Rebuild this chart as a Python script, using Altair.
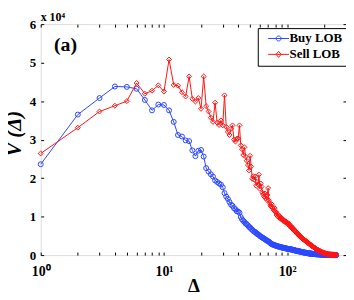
import altair as alt
import pandas as pd

# ---------------- data (values in units of 10^4) ----------------
delta = list(range(1, 251))

buy = [
    2.36, 3.65, 4.08, 4.38, 4.37, 4.32, 4.03, 3.76, 3.91, 3.90,
    3.76, 3.46, 3.12, 3.08, 2.98, 2.96, 2.72, 2.57, 2.71, 2.73,
    2.56, 2.26, 2.17, 2.10, 2.04, 1.94, 1.90, 1.86, 1.83, 1.76,
    1.61, 1.52, 1.46, 1.38, 1.31, 1.28, 1.22, 1.19, 1.14, 1.13,
    1.10, 0.99, 0.93, 0.89, 0.86, 0.82, 0.80, 0.77, 0.73, 0.72,
    0.68, 0.66, 0.63, 0.61, 0.60, 0.57, 0.55, 0.54, 0.52, 0.50,
    0.48, 0.47, 0.45, 0.44, 0.43, 0.41, 0.40, 0.38, 0.37, 0.36,
    0.35, 0.33, 0.31, 0.30, 0.28, 0.28, 0.27, 0.26, 0.26, 0.25,
    0.24, 0.24, 0.23, 0.23, 0.22, 0.22, 0.21, 0.21, 0.20, 0.20,
    0.20, 0.19, 0.19, 0.19, 0.18, 0.18, 0.18, 0.17, 0.17, 0.17,
    0.16, 0.16, 0.16, 0.16, 0.15, 0.15, 0.15, 0.15, 0.14, 0.14,
    0.14, 0.13, 0.13, 0.13, 0.12, 0.12, 0.12, 0.11, 0.11, 0.11,
    0.11, 0.10, 0.10, 0.10, 0.10, 0.09, 0.09, 0.09, 0.09, 0.08,
    0.08, 0.08, 0.08, 0.07, 0.07, 0.07, 0.07, 0.07, 0.06, 0.06,
    0.06, 0.06, 0.06, 0.05, 0.05, 0.05, 0.05, 0.05, 0.05, 0.04,
    0.04, 0.04, 0.04, 0.04, 0.04, 0.04, 0.035, 0.035, 0.035, 0.035,
    0.03, 0.03, 0.03, 0.03, 0.03, 0.03, 0.025, 0.025, 0.025, 0.025,
    0.025, 0.02, 0.02, 0.02, 0.02, 0.02, 0.02, 0.02, 0.02, 0.018,
    0.018, 0.018, 0.017, 0.017, 0.016, 0.016, 0.015, 0.015, 0.015, 0.014,
    0.014, 0.013, 0.013, 0.013, 0.012, 0.012, 0.012, 0.011, 0.011, 0.011,
    0.010, 0.010, 0.010, 0.009, 0.009, 0.009, 0.009, 0.008, 0.008, 0.008,
    0.008, 0.007, 0.007, 0.007, 0.007, 0.006, 0.006, 0.006, 0.006, 0.006,
    0.005, 0.005, 0.005, 0.005, 0.005, 0.004, 0.004, 0.004, 0.004, 0.004,
    0.004, 0.003, 0.003, 0.003, 0.003, 0.003, 0.003, 0.002, 0.002, 0.002,
    0.002, 0.002, 0.002, 0.002, 0.001, 0.001, 0.001, 0.001, 0.001, 0.001,
]

sell = [
    2.64, 3.31, 3.73, 3.88, 4.00, 4.47, 4.19, 4.27, 4.41, 4.25,
    5.08, 4.42, 4.40, 4.23, 4.12, 4.64, 4.06, 3.99, 4.08, 3.80,
    4.64, 3.87, 3.73, 3.57, 3.46, 3.96, 3.44, 3.38, 3.50, 3.37,
    4.15, 3.33, 3.20, 3.12, 3.28, 3.37, 3.00, 2.95, 3.02, 3.03,
    3.37, 2.85, 2.75, 2.60, 2.80, 2.56, 2.45, 2.34, 2.20, 2.58,
    2.30, 1.98, 2.05, 1.96, 2.04, 1.80, 1.90, 1.84, 2.09, 1.72,
    1.86, 1.78, 1.62, 1.58, 1.52, 1.60, 1.48, 1.44, 1.56, 1.74,
    1.42, 1.36, 1.30, 1.26, 1.32, 1.24, 1.20, 1.16, 1.22, 1.12,
    1.12, 1.04, 1.08, 1.00, 1.03, 0.97, 1.01, 0.95, 0.98, 0.93,
    0.95, 0.90, 0.92, 0.88, 0.89, 0.86, 0.88, 0.84, 0.86, 0.84,
    0.83, 0.80, 0.82, 0.76, 0.78, 0.74, 0.76, 0.72, 0.70, 0.72,
    0.68, 0.66, 0.68, 0.64, 0.62, 0.63, 0.60, 0.61, 0.58, 0.57,
    0.56, 0.54, 0.55, 0.52, 0.50, 0.51, 0.49, 0.48, 0.47, 0.46,
    0.45, 0.44, 0.43, 0.42, 0.42, 0.40, 0.40, 0.39, 0.38, 0.38,
    0.37, 0.36, 0.35, 0.34, 0.34, 0.33, 0.32, 0.31, 0.31, 0.30,
    0.29, 0.29, 0.28, 0.27, 0.26, 0.26, 0.25, 0.24, 0.24, 0.23,
    0.22, 0.22, 0.21, 0.21, 0.20, 0.19, 0.19, 0.18, 0.18, 0.17,
    0.16, 0.16, 0.15, 0.15, 0.14, 0.14, 0.13, 0.13, 0.12, 0.12,
    0.11, 0.11, 0.11, 0.10, 0.10, 0.09, 0.09, 0.09, 0.08, 0.08,
    0.08, 0.07, 0.07, 0.07, 0.06, 0.06, 0.06, 0.06, 0.05, 0.05,
    0.05, 0.05, 0.04, 0.04, 0.04, 0.04, 0.04, 0.03, 0.03, 0.03,
    0.03, 0.03, 0.03, 0.02, 0.02, 0.02, 0.02, 0.02, 0.02, 0.02,
    0.02, 0.01, 0.01, 0.01, 0.01, 0.01, 0.01, 0.01, 0.01, 0.01,
    0.01, 0.01, 0.01, 0.01, 0.008, 0.008, 0.007, 0.007, 0.006, 0.006,
    0.005, 0.005, 0.004, 0.004, 0.004, 0.003, 0.003, 0.003, 0.002, 0.002,
]

series_names = ["Buy LOB", "Sell LOB"]
series_colors = ["#2a48ff", "#ff1414"]
series_shapes = ["circle", "diamond"]

x_ticks = [1, 2, 3, 4, 5, 6, 7, 8, 9, 10, 20, 30, 40, 50, 60, 70, 80, 90, 100, 200, 300]
x_label_ticks = [1, 10, 100]
y_ticks = [0, 1, 2, 3, 4, 5, 6]

df = pd.DataFrame({
    "delta": delta + delta,
    "V": buy + sell,
    "series": [series_names[0]] * len(delta) + [series_names[1]] * len(delta),
})
df["series_l"] = df["series"]

FONT = "Liberation Serif"
W, H = 308, 233

# legend glyphs (line with marker), unit = 2 px (symbol size 16)
LEG_LINE = "M0,0L10.5,0"
LEG_CIRCLE = LEG_LINE + "M4,0A1.25,1.25 0 1 0 6.5,0A1.25,1.25 0 1 0 4,0Z"
LEG_DIAMOND = LEG_LINE + "M5.25,-1.5L6.5,0L5.25,1.5L4,0Z"

xscale = alt.Scale(type="log", domain=[1, 300])
yscale = alt.Scale(domain=[0, 6], nice=False)
color_scale = alt.Scale(domain=series_names, range=series_colors)
shape_scale = alt.Scale(domain=series_names, range=series_shapes)
leg_stroke_scale = alt.Scale(domain=series_names, range=series_colors)
leg_shape_scale = alt.Scale(domain=series_names, range=[LEG_CIRCLE, LEG_DIAMOND])

axis_x_main = alt.Axis(
    values=x_label_ticks,
    labelExpr="datum.value == 1 ? '10⁰' : (datum.value == 10 ? '10¹' : '10²')",
    ticks=False, domain=False, grid=False,
    labelFont=FONT, labelFontWeight="bold", labelFontSize=14, labelColor="black",
    labelPadding=10, labelFlush=False, labelOverlap=False,
    titleFont=FONT, titleFontWeight="bold", titleFontSize=19,
    titleColor="black", titleY=37, titleBaseline="alphabetic",
)
axis_y_main = alt.Axis(
    values=y_ticks, format="d",
    ticks=False, domain=False, grid=False,
    labelFont=FONT, labelFontWeight="bold", labelFontSize=13, labelColor="black",
    labelPadding=5, labelFlush=False, labelOverlap=False,
    titleFont=FONT, titleFontWeight="bold", titleFontStyle="italic",
    titleFontSize=21, titleColor="black", titleX=-26, titleY=110,
    titleBaseline="middle", titleAlign="center",
)

def tick_axis(orient, offset, values):
    return alt.Axis(orient=orient, offset=offset, values=values, labels=False,
                    domain=False, grid=False, ticks=True, tickSize=3,
                    tickColor="black", tickWidth=1)

legend = alt.Legend(
    orient="none", legendX=219, legendY=4, title=None,
    symbolSize=16, symbolStrokeWidth=1, symbolOpacity=1,
    symbolFillColor="transparent",
    labelFont=FONT, labelFontWeight="bold", labelFontSize=13, labelColor="black",
    labelOffset=15, padding=4, rowPadding=2,
    fillColor="white", strokeColor="black",
)

base = alt.Chart(df)

def line_layer(name, xaxis, yaxis, xtitle=None, ytitle=None):
    return base.transform_filter(alt.datum.series == name).mark_line(strokeWidth=1).encode(
        x=alt.X("delta:Q", scale=xscale, axis=xaxis, title=xtitle),
        y=alt.Y("V:Q", scale=yscale, axis=yaxis, title=ytitle),
        color=alt.Color("series:N", scale=color_scale, legend=None),
    )

def point_layer(name, xaxis, yaxis):
    return base.transform_filter(alt.datum.series == name).mark_point(
        filled=False, size=25, strokeWidth=1, opacity=1
    ).encode(
        x=alt.X("delta:Q", scale=xscale, axis=xaxis, title=None),
        y=alt.Y("V:Q", scale=yscale, axis=yaxis, title=None),
        stroke=alt.Stroke("series:N", scale=color_scale, legend=None),
        shape=alt.Shape("series:N", scale=shape_scale, legend=None),
    )

blue_line = line_layer(series_names[0], axis_x_main, axis_y_main, "Δ", "V (Δ)")
blue_pts = point_layer(series_names[0], tick_axis("top", -H, x_ticks), tick_axis("right", -W, y_ticks))
red_line = line_layer(series_names[1], tick_axis("bottom", -H, x_ticks), tick_axis("left", -W, y_ticks))
red_pts = point_layer(series_names[1], None, None)

# invisible layer that only supplies the legend (line + marker glyphs)
legend_src = base.mark_point(filled=False, opacity=0, size=16).encode(
    x=alt.X("delta:Q", scale=xscale, axis=None),
    y=alt.Y("V:Q", scale=yscale, axis=None),
    stroke=alt.Stroke("series_l:N", scale=leg_stroke_scale, legend=legend),
    shape=alt.Shape("series_l:N", scale=leg_shape_scale, legend=legend),
)

panel_label = alt.Chart(pd.DataFrame({"label": ["(a)"]})).mark_text(
    font=FONT, fontWeight="bold", fontSize=20, align="center", baseline="middle", color="black"
).encode(x=alt.value(25), y=alt.value(21), text="label:N")

exp_label = alt.Chart(pd.DataFrame({"label": ["x 10⁴"]})).mark_text(
    font=FONT, fontWeight="bold", fontSize=12, align="left", baseline="alphabetic", color="black"
).encode(x=alt.value(0), y=alt.value(-3), text="label:N")

chart = alt.layer(
    legend_src, blue_line, blue_pts, red_line, red_pts, panel_label, exp_label
).resolve_axis(
    x="independent", y="independent"
).resolve_scale(
    stroke="independent", shape="independent"
).properties(
    width=W, height=H,
    autosize=alt.AutoSizeParams(type="none"),
    padding={"left": 33, "top": 15, "right": 0, "bottom": 40},
).configure_view(stroke="black", strokeWidth=1).configure(background="white")

chart.save("out.html", embed_options={"renderer": "svg", "actions": False})
